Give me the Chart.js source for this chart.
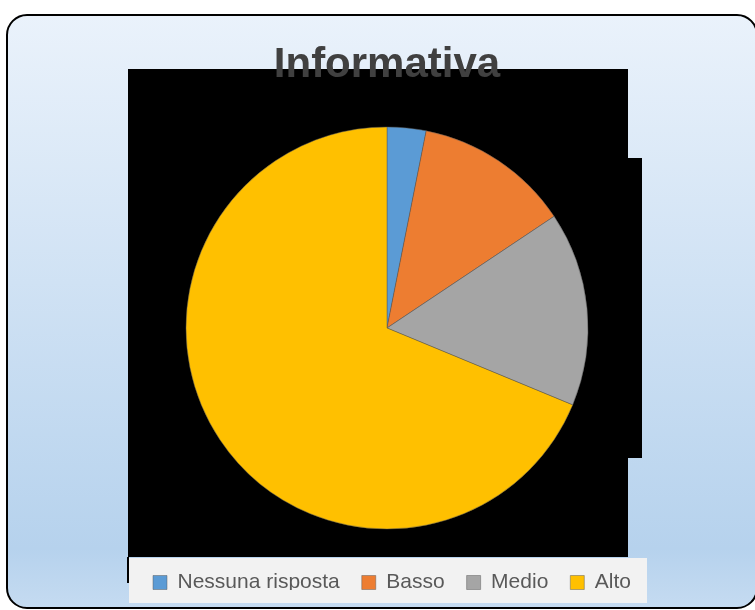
<!DOCTYPE html>
<html>
<head>
<meta charset="utf-8">
<script src="https://cdn.jsdelivr.net/npm/chart.js@4/dist/chart.umd.min.js"></script>
<style>
  html, body { margin: 0; padding: 0; background: #fff; }
  #chart { display: block; }
</style>
</head>
<body>
<canvas id="chart" width="755" height="610"></canvas>
<script>
const categories = ["Nessuna risposta", "Basso", "Medio", "Alto"];
const values = [1, 4, 5, 22];
const sliceColors = ["#5b9bd5", "#ed7d31", "#a5a5a5", "#ffc000"];
const chartTitle = "Informativa";

// frame, gradient and the black plot boxes behind the pie
const backdrop = {
  id: "backdrop",
  afterLayout(chart) {
    // the legend sits a little right of the pie centre
    chart.legend.left += 5;
    chart.legend.right += 5;
  },
  beforeDraw(chart) {
    const ctx = chart.ctx;
    ctx.save();
    ctx.fillStyle = "#ffffff";
    ctx.fillRect(0, 0, chart.width, chart.height);

    const x = 7, y = 15, w = 750, h = 593, r = 20;
    ctx.beginPath();
    ctx.moveTo(x + r, y);
    ctx.lineTo(x + w - r, y);
    ctx.arcTo(x + w, y, x + w, y + r, r);
    ctx.lineTo(x + w, y + h - r);
    ctx.arcTo(x + w, y + h, x + w - r, y + h, r);
    ctx.lineTo(x + r, y + h);
    ctx.arcTo(x, y + h, x, y + h - r, r);
    ctx.lineTo(x, y + r);
    ctx.arcTo(x, y, x + r, y, r);
    ctx.closePath();
    const grad = ctx.createLinearGradient(0, y, 0, y + h);
    grad.addColorStop(0, "#eaf2fb");
    grad.addColorStop(0.9, "#b6d2ed");
    grad.addColorStop(1, "#c5dbf1");
    ctx.fillStyle = grad;
    ctx.fill();
    ctx.lineWidth = 2;
    ctx.strokeStyle = "#000000";
    ctx.stroke();

    ctx.fillStyle = "#000000";
    ctx.fillRect(128, 69, 500, 488);
    ctx.fillRect(628, 158, 14, 300);
    ctx.fillRect(127, 557, 2, 26);

    ctx.fillStyle = "#f2f2f2";
    ctx.fillRect(129, 558, 518, 45);
    ctx.restore();
  }
};

const chart = new Chart(document.getElementById("chart").getContext("2d"), {
  type: "pie",
  data: {
    labels: categories,
    datasets: [
      {
        data: values,
        backgroundColor: sliceColors,
        borderColor: "rgba(90,90,90,0.8)",
        borderWidth: 0.6,
        radius: 201,
      },
    ],
  },
  options: {
    responsive: false,
    animation: false,
    layout: {
      padding: { left: 19, right: 0, top: 0, bottom: 20 },
    },
    plugins: {
      title: {
        display: true,
        text: chartTitle,
        color: "#404040",
        font: { family: "'Liberation Sans', Arial, sans-serif", size: 42, weight: "bold" },
        padding: { top: 40.5, bottom: 15.1 },
      },
      legend: {
        position: "bottom",
        maxHeight: 40,
        labels: {
          color: "#595959",
          font: { family: "'Liberation Sans', Arial, sans-serif", size: 21 },
          boxWidth: 14,
          boxHeight: 14,
          padding: 22,
        },
      },
      tooltip: { enabled: false },
    },
  },
  plugins: [backdrop],
});
</script>
</body>
</html>
